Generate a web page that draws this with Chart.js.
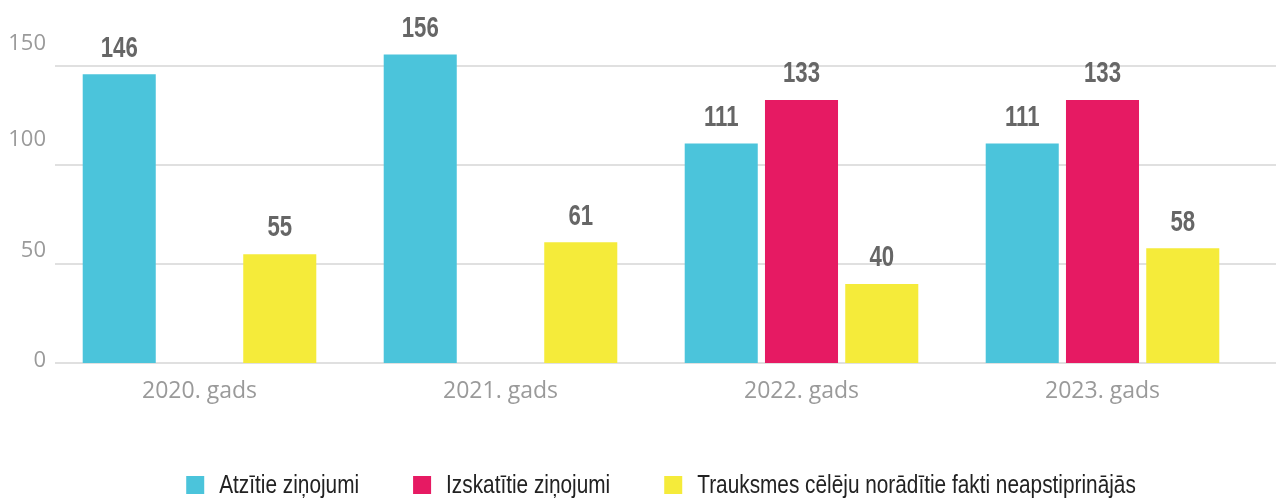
<!DOCTYPE html>
<html>
<head>
<meta charset="utf-8">
<script src="https://cdn.jsdelivr.net/npm/chart.js@4"></script>
<style>
  html, body { margin: 0; padding: 0; background: #fff; }
  #wrap { width: 1276px; height: 498px; position: relative; }
</style>
</head>
<body>
<div id="wrap"><canvas id="reportsChart"></canvas></div>
<script>
const years = ['2020. gads', '2021. gads', '2022. gads', '2023. gads'];
const seriesNames = ['Atzītie ziņojumi', 'Izskatītie ziņojumi', 'Trauksmes cēlēju norādītie fakti neapstiprinājās'];
const acknowledged = [146, 156, 111, 111];
const reviewed = [null, null, 133, 133];
const notConfirmed = [55, 61, 40, 58];
const yTicks = [0, 50, 100, 150];

// y labels in the source sit a little above their gridlines
const labelLift = [2, 13, 25, 23];

// narrow text: draw a normal font squeezed horizontally
function narrowText(c, text, x, y, squeeze) {
    c.save();
    c.translate(x, y);
    c.scale(squeeze, 1);
    c.fillText(text, 0, 0);
    c.restore();
}

const customDraw = {
    id: 'customDraw',
    beforeDatasetsDraw(chart) {
        const c = chart.ctx;
        const y = chart.scales.y;
        c.save();
        c.strokeStyle = '#e0e0e0';
        c.lineWidth = 2;
        yTicks.forEach(v => {
            const py = Math.round(y.getPixelForValue(v));
            c.beginPath();
            c.moveTo(55, py);
            c.lineTo(chart.width, py);
            c.stroke();
        });
        c.fillStyle = '#9a9a9a';
        c.font = '22px "Open Sans"';
        c.textAlign = 'right';
        c.textBaseline = 'middle';
        yTicks.forEach((v, i) => {
            c.fillText(String(v), 46, y.getPixelForValue(v) - labelLift[i]);
        });
        c.restore();
    },
    afterDatasetsDraw(chart) {
        const c = chart.ctx;
        c.save();
        c.fillStyle = '#666666';
        c.font = 'bold 30px "Liberation Sans"';
        c.textAlign = 'center';
        c.textBaseline = 'middle';
        chart.data.datasets.forEach((ds, di) => {
            chart.getDatasetMeta(di).data.forEach((bar, i) => {
                const v = ds.data[i];
                if (v === null || v === undefined) return;
                narrowText(c, String(v), bar.x, bar.y - 26, 0.74);
            });
        });
        c.restore();
    },
    afterDraw(chart) {
        // legend row along the bottom
        const c = chart.ctx;
        const squeeze = 0.8, box = 18, gapText = 15, gapItem = 54;
        c.save();
        c.font = '26px "Liberation Sans"';
        c.textBaseline = 'middle';
        c.textAlign = 'left';
        const items = chart.data.datasets.map(ds => ({
            text: ds.label,
            color: ds.backgroundColor,
            w: c.measureText(ds.label).width * squeeze
        }));
        let total = 0;
        items.forEach((it, i) => { total += box + gapText + it.w + (i ? gapItem : 0); });
        let x = (chart.chartArea.left + chart.chartArea.right) / 2 + 10 - total / 2;
        const cy = 485;
        items.forEach(it => {
            c.fillStyle = it.color;
            c.fillRect(x, cy - box / 2, box, box);
            c.fillStyle = '#222222';
            narrowText(c, it.text, x + box + gapText, cy + 1, squeeze);
            x += box + gapText + it.w + gapItem;
        });
        c.restore();
    }
};

const ctx = document.getElementById('reportsChart').getContext('2d');

const reportsChart = new Chart(ctx, {
    type: 'bar',
    data: {
        labels: years,
        datasets: [{
            label: seriesNames[0],
            data: acknowledged,
            backgroundColor: '#4bc4db'
        }, {
            label: seriesNames[1],
            data: reviewed,
            backgroundColor: '#e61a63'
        }, {
            label: seriesNames[2],
            data: notConfirmed,
            backgroundColor: '#f5eb3a'
        }]
    },
    options: {
        responsive: true,
        maintainAspectRatio: false,
        animation: false,
        categoryPercentage: 0.8,
        barPercentage: 0.91,
        layout: {
            padding: { left: 0, right: 23, top: 7, bottom: 35 }
        },
        plugins: {
            tooltip: { enabled: false },
            legend: { display: false }
        },
        scales: {
            x: {
                grid: { display: false },
                border: { display: false },
                ticks: {
                    color: '#9a9a9a',
                    padding: 7,
                    font: { family: '"Open Sans"', size: 23 }
                },
                afterFit(scale) { scale.height = 100; }
            },
            y: {
                min: 0,
                max: 180,
                grid: { display: false },
                border: { display: false },
                ticks: { display: false },
                afterBuildTicks(scale) {
                    scale.ticks = yTicks.map(v => ({ value: v }));
                },
                afterFit(scale) { scale.width = 49; }
            }
        }
    },
    plugins: [customDraw]
});
</script>
</body>
</html>
